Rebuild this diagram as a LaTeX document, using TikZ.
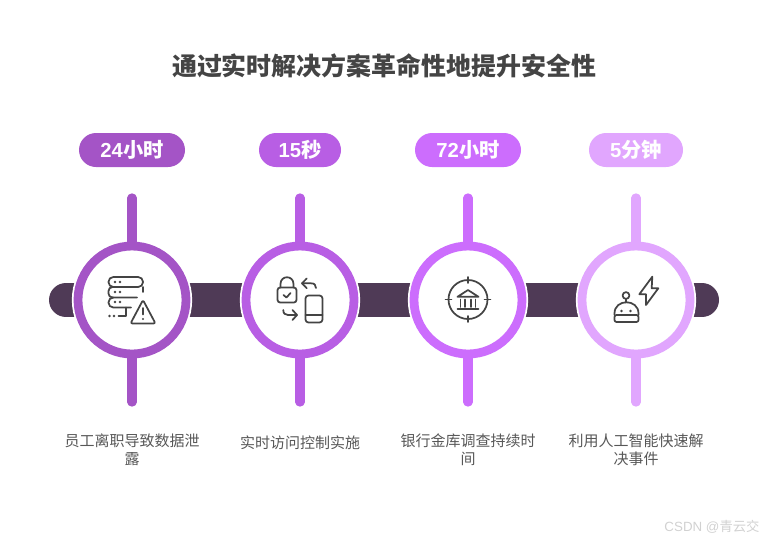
\documentclass[tikz,border=0pt]{standalone}
\usepackage{fontspec}
\usetikzlibrary{shapes.misc}
\setmainfont{Liberation Sans}
\newfontfamily\cjk{Noto Sans CJK SC}
\definecolor{barcol}{HTML}{4F3A56}
\definecolor{inkcol}{HTML}{444444}
\definecolor{stepa}{HTML}{A454C6}
\definecolor{stepb}{HTML}{B85EE4}
\definecolor{stepc}{HTML}{CC6DFD}
\definecolor{stepd}{HTML}{E1A6FE}
\tikzset{
  ring/.style={circle,draw=#1,fill=white,line width=6.6pt,minimum size=81pt,inner sep=0pt,
    preaction={draw=white,line width=9.2pt}},
  stem/.style={draw=#1,line width=7pt,line cap=round},
  pill/.style={rounded rectangle,fill=#1,text=white,minimum height=25.5pt,inner sep=0pt,
    font=\fontsize{15.2pt}{17pt}\bfseries},
  caption/.style={text=inkcol!90,align=center,font=\cjk\fontsize{11.25pt}{13.5pt}\selectfont},
  icon/.style={draw=inkcol,line width=1.3pt,line cap=round,line join=round},
  dot/.style={fill=inkcol,draw=none},
}
\begin{document}
\begin{tikzpicture}[x=0.75pt,y=-0.75pt]
  \useasboundingbox (0,0) rectangle (768,540);
  \node[text=inkcol,font=\cjk\fontsize{18.7pt}{22pt}\bfseries] (title) at (384,65.5) {通过实时解决方案革命性地提升安全性};
  \node[pill=stepa,minimum width=79.5pt] (pill1) at (132,150) {24{\cjk 小时}};
  \node[pill=stepb,minimum width=61.5pt] (pill2) at (300,150) {15{\cjk 秒}};
  \node[pill=stepc,minimum width=79.5pt] (pill3) at (468,150) {72{\cjk 小时}};
  \node[pill=stepd,minimum width=70.5pt] (pill4) at (636,150) {5{\cjk 分钟}};
  \coordinate (barL) at (66,300);
  \coordinate (barR) at (702,300);
  \draw[barcol,line width=25.5pt,line cap=round] (barL) -- (barR);
  \node[ring=stepa] (ring1) at (132,300) {};
  \node[ring=stepb] (ring2) at (300,300) {};
  \node[ring=stepc] (ring3) at (468,300) {};
  \node[ring=stepd] (ring4) at (636,300) {};
  \coordinate (top1) at (132,198);
  \coordinate (top2) at (300,198);
  \coordinate (top3) at (468,198);
  \coordinate (top4) at (636,198);
  \coordinate (bot1) at (132,402);
  \coordinate (bot2) at (300,402);
  \coordinate (bot3) at (468,402);
  \coordinate (bot4) at (636,402);
  \draw[stem=stepa] (top1) -- (ring1);
  \draw[stem=stepa] (bot1) -- (ring1);
  \draw[stem=stepb] (top2) -- (ring2);
  \draw[stem=stepb] (bot2) -- (ring2);
  \draw[stem=stepc] (top3) -- (ring3);
  \draw[stem=stepc] (bot3) -- (ring3);
  \draw[stem=stepd] (top4) -- (ring4);
  \draw[stem=stepd] (bot4) -- (ring4);
  \begin{scope}[icon]
    \draw[rounded corners=3.6pt] (143,282) -- (143,277) -- (108.5,277) -- (108.5,287) -- (143,287) -- (143,282);
    \draw[rounded corners=3pt] (143,292) -- (143,287) (112,287) -- (108.5,287) -- (108.5,297.5) -- (137,297.5);
    \draw[rounded corners=3.6pt] (112,297.5) -- (108.5,297.5) -- (108.5,307.5) -- (131,307.5);
    \draw (126,307.5) -- (126,316) -- (118.5,316);
    \draw[rounded corners=1.5pt] (143,300) -- (155.5,323.5) -- (130.5,323.5) -- cycle;
    \draw (143,308) -- (143,314.5);
    \fill[dot] (143,319) circle[radius=1.2];
    \fill[dot] (109.5,316) circle[radius=1.4];
    \fill[dot] (114,316) circle[radius=1.4];
    \fill[dot] (115,282) circle[radius=1.4];
    \fill[dot] (120,282) circle[radius=1.4];
    \fill[dot] (115,292) circle[radius=1.4];
    \fill[dot] (120,292) circle[radius=1.4];
    \fill[dot] (115,302) circle[radius=1.4];
    \fill[dot] (120,302) circle[radius=1.4];
    \draw[rounded corners=2pt] (277.5,287.5) rectangle (296.5,302.5);
    \draw (280.5,287.5) -- (280.5,284) .. controls (280.5,275) and (293.5,275) .. (293.5,284) -- (293.5,287.5);
    \draw (283.5,295) -- (286.5,297.5) -- (290.5,293);
    \draw[rounded corners=2.2pt] (305.5,295.5) rectangle (322.5,322.5);
    \draw (305.5,315) -- (322.5,315);
    \draw (316,288) .. controls (316,285) and (314.5,283.3) .. (311,283.3) -- (302,283.3);
    \draw (306.7,278.5) -- (302,283.3) -- (306.7,288.2);
    \draw (283.3,310) .. controls (283.3,313.5) and (285,315) .. (288,315) -- (297,315);
    \draw (292.5,310) -- (297,315) -- (292.5,320);
    \draw (468,299.5) circle[radius=19.5];
    \draw (468,277) -- (468,283);
    \draw (468,316) -- (468,322);
    \draw (445.5,299.5) -- (451.5,299.5);
    \draw (484.5,299.5) -- (490.5,299.5);
    \draw (457.5,296.8) -- (468,290) -- (478.5,296.8) -- cycle;
    \draw (460.5,299.5) -- (460.5,307);
    \draw (465,299.5) -- (465,307);
    \draw (471,299.5) -- (471,307);
    \draw (475.5,299.5) -- (475.5,307);
    \draw (457.5,309) -- (478.5,309);
    \draw (614.5,315) -- (614.5,313.5) .. controls (614.5,298.5) and (638.5,298.5) .. (638.5,313.5) -- (638.5,315);
    \draw[rounded corners=1.5pt] (614.5,315) rectangle (638.5,322);
    \draw (626,299) -- (626,302.5);
    \draw (626,295.5) circle[radius=3.4];
    \fill[dot] (621.5,311) circle[radius=1.4];
    \fill[dot] (630.5,311) circle[radius=1.4];
    \draw (652.3,276.7) -- (651.7,288.3) -- (658.3,288.3) -- (646,305) -- (646,294.3) -- (639.3,294.3) -- cycle;
  \end{scope}
  \node[caption] (cap1) at (132,449.5) {员工离职导致数据泄\\露};
  \node[caption] (cap2) at (300,443) {实时访问控制实施};
  \node[caption] (cap3) at (468,449.5) {银行金库调查持续时\\间};
  \node[caption] (cap4) at (636,449.5) {利用人工智能快速解\\决事件};
  \node[text=black!18,font=\fontsize{10pt}{12pt}\selectfont] (mark) at (712,527) {CSDN @{\cjk 青云交}};
\end{tikzpicture}
\end{document}
